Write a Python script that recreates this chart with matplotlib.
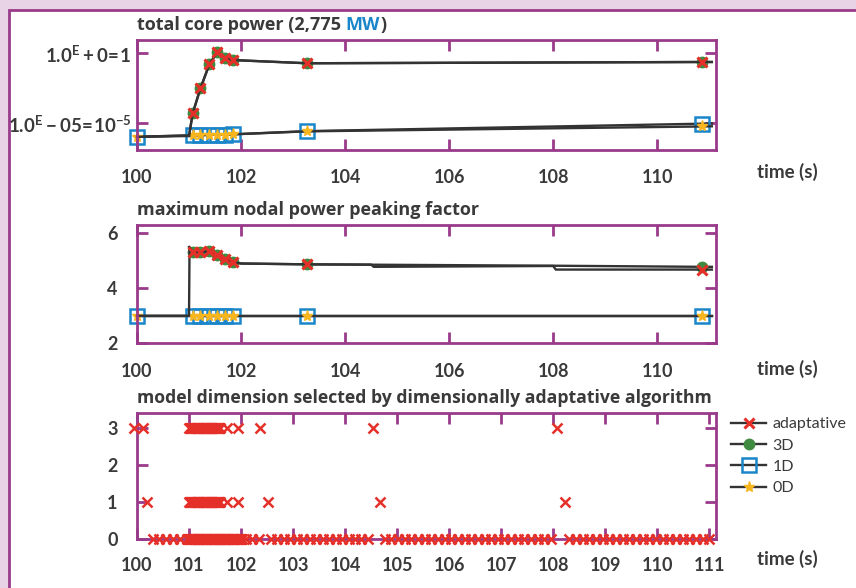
import numpy as np
import matplotlib
matplotlib.use('Agg')
import matplotlib.pyplot as plt
from matplotlib.lines import Line2D
from matplotlib.patches import Rectangle

# total core power, fraction of nominal (2,775 MW)
pw_time_ad = [100.0, 101.0, 101.07, 101.22, 101.39, 101.54, 101.69, 101.84, 103.27, 110.86, 111.05]
pw_adapt = [1.1e-6, 1.25e-6, 5.1e-5, 3.2e-3, 0.16, 1.17, 0.49, 0.33, 0.195, 0.24, 0.24]
pw_time_3d = [101.0, 101.07, 101.22, 101.39, 101.54, 101.69, 101.84, 103.27, 110.86, 111.05]
pw_3d = [1.25e-6, 5.1e-5, 3.2e-3, 0.16, 1.17, 0.49, 0.33, 0.195, 0.24, 0.24]
pw_time_1d = [100.0, 101.07, 101.22, 101.39, 101.54, 101.69, 101.84, 103.27, 110.86, 111.05]
pw_1d = [1.1e-6, 1.4e-6, 1.45e-6, 1.5e-6, 1.55e-6, 1.6e-6, 1.65e-6, 2.8e-6, 9.5e-6, 1.0e-5]
pw_0d = [1.1e-6, 1.4e-6, 1.45e-6, 1.5e-6, 1.55e-6, 1.6e-6, 1.65e-6, 2.7e-6, 6.0e-6, 6.2e-6]

# maximum nodal power peaking factor
pk_time_ad = [100.0, 101.0, 101.01, 101.07, 101.22, 101.39, 101.54, 101.69, 101.84, 102.0,
              103.27, 104.5, 104.55, 108.0, 108.05, 110.86, 111.05]
pk_adapt = [3.0, 3.0, 5.5, 5.32, 5.32, 5.34, 5.2, 5.07, 4.96, 4.9,
            4.87, 4.86, 4.78, 4.81, 4.68, 4.68, 4.68]
pk_time_3d = [101.0, 101.07, 101.22, 101.39, 101.54, 101.69, 101.84, 102.0, 103.27, 108.0, 110.86, 111.05]
pk_3d = [5.5, 5.32, 5.32, 5.34, 5.2, 5.07, 4.96, 4.9, 4.87, 4.82, 4.78, 4.78]
pk_time_1d = [100.0, 101.07, 101.22, 101.39, 101.54, 101.69, 101.84, 103.27, 110.86, 111.05]
pk_1d = [3.0, 3.0, 3.0, 3.0, 3.0, 3.0, 3.0, 3.0, 3.0, 3.0]
pk_0d = [3.0, 3.0, 3.0, 3.0, 3.0, 3.0, 3.0, 3.0, 3.0, 3.0]

# model dimension chosen by the adaptive algorithm (3, 1 or 0)
dim3_times = [99.94, 100.11, 101.73, 101.95, 102.37, 104.53, 108.07]
dim1_times = [100.20, 101.73, 101.95, 102.51, 104.68, 108.23]
dim31_dense = (101.0, 101.6, 31)      # start, stop, n points (solid block)
dim0_dense = (100.97, 102.02, 53)
# evenly stepped zero-dimension calls: start, stop, n points
dim0_runs = [(100.30, 100.82, 5), (102.09, 102.35, 3), (102.57, 104.44, 16),
             (104.76, 107.96, 26), (108.31, 111.0, 22)]

ad_marks = [2, 3, 4, 5, 6, 7, 8, 9]
d3_marks = [1, 2, 3, 4, 5, 6, 7, 8]
d1_marks = [0, 1, 2, 3, 4, 5, 6, 7, 8]
pk_ad_marks = [3, 4, 5, 6, 7, 8, 10, 15]
pk_3d_marks = [1, 2, 3, 4, 5, 6, 8, 10]

PURPLE = '#993a8b'
LAVENDER = '#e7d2e6'
TXT = '#3a3a3a'
LINE = '#333333'
RED = '#e5302a'
GREEN = '#3f8b3f'
BLUE = '#1a86c9'
YELLOW = '#f7b51e'

plt.rcParams['font.family'] = ['Lato', 'DejaVu Sans']
plt.rcParams['mathtext.fontset'] = 'custom'
plt.rcParams['mathtext.rm'] = 'Lato:bold'
plt.rcParams['mathtext.it'] = 'Lato:bold'
plt.rcParams['mathtext.bf'] = 'Lato:bold'
plt.rcParams['text.color'] = TXT

W, H = 856, 588
fig = plt.figure(figsize=(W / 100, H / 100), dpi=100, facecolor=LAVENDER)
fig.add_artist(Rectangle((8.5 / W, -0.1), 1.2, 1.1 - 9.5 / H, transform=fig.transFigure,
                         facecolor='white', edgecolor=PURPLE, lw=2, zorder=-5))


def px_axes(l, t, r, b):
    return fig.add_axes([l / W, 1 - b / H, (r - l) / W, (b - t) / H])


ax1 = px_axes(137, 40, 716, 150)
ax2 = px_axes(137, 225, 716, 343.3)
ax3 = px_axes(137, 412.7, 716, 539)

for ax in (ax1, ax2, ax3):
    for s in ax.spines.values():
        s.set_color(PURPLE)
        s.set_linewidth(2)
    ax.tick_params(direction='in', length=8, width=2, color=PURPLE, top=True, right=True,
                   labelsize=13, labelcolor=TXT)
    ax.set_xlim(100, 111.13)

lkw = dict(color=LINE, lw=1.7, clip_on=False)
mk_ad = dict(marker='x', ms=7, mew=2.2, mec=RED)
mk_3d = dict(marker='o', ms=7.5, mfc=GREEN, mec=GREEN)
mk_1d = dict(marker='s', ms=10, mew=1.8, mec=BLUE, mfc='none')
mk_0d = dict(marker='*', ms=8, mfc=YELLOW, mec=YELLOW)

# top: power
ax1.plot(pw_time_1d, pw_1d, markevery=d1_marks, **lkw, **mk_1d)
ax1.plot(pw_time_1d, pw_0d, markevery=d1_marks, **lkw, **mk_0d)
ax1.plot(pw_time_3d, pw_3d, markevery=d3_marks, **lkw, **mk_3d)
ax1.plot(pw_time_ad, pw_adapt, markevery=ad_marks, **lkw, **mk_ad)
ax1.set_yscale('log')
ax1.set_ylim(10 ** -6.9, 10 ** 0.95)
ax1.set_yticks([1e-5, 1])
ax1.yaxis.set_minor_locator(matplotlib.ticker.NullLocator())
ax1.set_yticklabels([r'$1.0^{\mathrm{E}}-05\!=\!10^{-5}$', r'$1.0^{\mathrm{E}}+0\!=\!1$'])
ax1.set_xticks([100, 102, 104, 106, 108, 110])
ax1.tick_params(axis='y', pad=4, labelsize=13.5)
ax1.tick_params(axis='x', pad=14)

# middle: peaking factor
ax2.plot(pk_time_1d, pk_1d, markevery=d1_marks, **lkw, **mk_1d)
ax2.plot(pk_time_1d, pk_0d, markevery=d1_marks, **lkw, **mk_0d)
ax2.plot(pk_time_3d, pk_3d, markevery=pk_3d_marks, **lkw, **mk_3d)
ax2.plot(pk_time_ad, pk_adapt, markevery=pk_ad_marks, **lkw, **mk_ad)
ax2.set_ylim(2, 6.3)
ax2.set_yticks([2, 4, 6])
ax2.set_xticks([100, 102, 104, 106, 108, 110])
ax2.tick_params(axis='y', pad=14)
ax2.tick_params(axis='x', pad=14)

# bottom: selected model dimension
t0 = [np.linspace(a, b, n) for a, b, n in dim0_runs] + [np.linspace(*dim0_dense)]
t0 = np.concatenate(t0)
t31 = np.linspace(*dim31_dense)
t3 = np.concatenate([dim3_times, t31])
t1 = np.concatenate([dim1_times, t31])
xkw = dict(ls='none', marker='x', ms=6.5, mew=1.8, color=RED, clip_on=False, zorder=5)
ax3.plot(t3, np.full(len(t3), 3), **xkw)
ax3.plot(t1, np.full(len(t1), 1), **xkw)
ax3.plot(t0, np.zeros(len(t0)), **xkw)
ax3.set_ylim(0, 3.4)
ax3.set_yticks([0, 1, 2, 3])
ax3.set_xticks(range(100, 112))
ax3.tick_params(axis='y', pad=14)
ax3.tick_params(axis='x', pad=13)

for ax in (ax1, ax2, ax3):
    for lab in ax.get_xticklabels() + ax.get_yticklabels():
        lab.set_fontweight('bold')

# titles
tkw = dict(fontsize=13, fontweight='bold', color=TXT, family=['Open Sans', 'DejaVu Sans'])
t1a = ax1.text(0, 1 + 10 / 110, 'total core power (2,775', transform=ax1.transAxes,
               va='baseline', **tkw)
t1b = ax1.annotate('MW', xy=(1, 0), xycoords=t1a, xytext=(3.5, 0), textcoords='offset points',
                   va='bottom', **{**tkw, 'color': BLUE})
ax1.annotate(')', xy=(1, 0), xycoords=t1b, va='bottom', **tkw)
ax2.set_title('maximum nodal power peaking factor', loc='left', pad=7, **tkw)
ax3.set_title('model dimension selected by dimensionally adaptative algorithm', loc='left',
              pad=7, **{**tkw, 'fontsize': 12.7})

for yc in (172, 368.5, 559):
    fig.text(787 / W, 1 - yc / H, 'time (s)', ha='center', va='center', fontsize=13.5,
             fontweight='bold', color=TXT)

handles = [Line2D([], [], **lkw, **mk_ad), Line2D([], [], **lkw, **mk_3d),
           Line2D([], [], **lkw, **mk_1d), Line2D([], [], **lkw, **mk_0d)]
fig.legend(handles, ['adaptative', '3D', '1D', '0D'], loc='upper left',
           bbox_to_anchor=(731 / W, 1 - 417 / H), frameon=False, fontsize=11.5,
           handlelength=2.2, handletextpad=0.4, labelspacing=0.45, borderpad=0,
           borderaxespad=0, labelcolor=TXT)

fig.savefig('out.png', dpi=100, facecolor=LAVENDER)
